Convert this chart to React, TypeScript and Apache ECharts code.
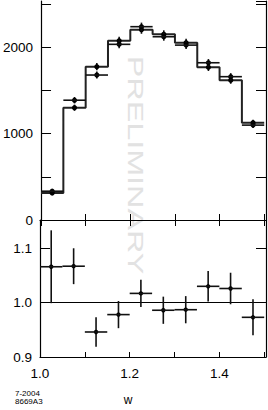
import React, { useEffect, useRef } from "react";
import * as echarts from "echarts";

const binLow = [1.0, 1.05, 1.1, 1.15, 1.2, 1.25, 1.3, 1.35, 1.4, 1.45];
const binHalf = 0.025;
const xMin = 1.0;
const xMax = 1.504;
const dataCounts = [333, 1385, 1676, 2031, 2235, 2119, 2022, 1818, 1657, 1097];
const dataErr = [20, 37, 40, 45, 47, 46, 45, 43, 41, 33];
const mcCounts = [312, 1298, 1773, 2073, 2200, 2147, 2050, 1765, 1615, 1125];
const mcErr = [18, 36, 42, 45, 47, 46, 45, 42, 40, 34];
const ratio = [1.066, 1.067, 0.946, 0.978, 1.017, 0.986, 0.987, 1.03, 1.026, 0.973];
const ratioErr = [0.067, 0.033, 0.027, 0.025, 0.025, 0.025, 0.025, 0.028, 0.029, 0.033];
const topYMax = 2532;
const ratioMin = 0.9;
const ratioMax = 1.152;
const xLabel = "w";
const stampLines = ["7-2004", "8669A3"];
const watermark = "PRELIMINARY";

const FONT = "'Liberation Sans', Arial, Helvetica, sans-serif";

function errRenderer(withHoriz: boolean, r: number) {
  return (params: any, api: any) => {
    const x = api.value(0);
    const y = api.value(1);
    const e = api.value(2);
    const hw = api.value(3);
    const c = api.coord([x, y]);
    const top = api.coord([x, y + e]);
    const bot = api.coord([x, y - e]);
    const l = api.coord([x - hw, y]);
    const rr = api.coord([x + hw, y]);
    const style = { stroke: "#111", lineWidth: 1.6 };
    const children: any[] = [
      { type: "line", shape: { x1: c[0], y1: top[1], x2: c[0], y2: bot[1] }, style },
      { type: "circle", shape: { cx: c[0], cy: c[1], r }, style: { fill: "#000" } },
    ];
    if (withHoriz) {
      children.push({ type: "line", shape: { x1: l[0], y1: c[1], x2: rr[0], y2: c[1] }, style });
    }
    return { type: "group", children };
  };
}

export default function App() {
  const ref = useRef<HTMLDivElement>(null);
  useEffect(() => {
    if (!ref.current) return;
    const chart = echarts.init(ref.current, undefined, { renderer: "svg" });
    const axisLine = { show: true, lineStyle: { color: "#000", width: 1.2 } };
    const tickStyle = { color: "#000", width: 1 };
    const labelStyle = { color: "#000", fontSize: 13.5, fontFamily: FONT };
    const isMultiple = (v: number, step: number) => Math.abs(v / step - Math.round(v / step)) < 1e-6;

    const stepData = binLow.map((x, i) => [x, mcCounts[i]]);
    stepData.push([binLow[binLow.length - 1] + 2 * binHalf, mcCounts[mcCounts.length - 1]]);

    const option: any = {
      animation: false,
      grid: [
        { left: 40, top: 1, width: 226, height: 219 },
        { left: 40, top: 220, width: 226, height: 137 },
      ],
      xAxis: [
        {
          gridIndex: 0, type: "value", min: xMin, max: xMax, interval: 0.1, position: "bottom",
          axisLine, axisTick: { show: true, inside: true, length: 6, lineStyle: tickStyle },
          axisLabel: { show: false }, splitLine: { show: false },
        },
        {
          gridIndex: 0, type: "value", min: xMin, max: xMax, interval: 0.1, position: "top",
          axisLine, axisTick: { show: true, inside: true, length: 6, lineStyle: tickStyle },
          axisLabel: { show: false }, splitLine: { show: false },
        },
        {
          gridIndex: 1, type: "value", min: xMin, max: xMax, interval: 0.1, position: "bottom",
          axisLine, axisTick: { show: true, inside: true, length: 5, lineStyle: tickStyle },
          axisLabel: {
            ...labelStyle, margin: 9, showMaxLabel: false,
            formatter: (v: number) => {
              if (!isMultiple(v, 0.1)) return "";
              const k = Math.round(v * 10);
              return k % 2 === 0 ? (k / 10).toFixed(1) : "";
            },
          },
          splitLine: { show: false },
        },
        {
          gridIndex: 1, type: "value", min: xMin, max: xMax, interval: 0.1, position: "top",
          axisLine, axisTick: { show: false }, axisLabel: { show: false }, splitLine: { show: false },
        },
      ],
      yAxis: [
        {
          gridIndex: 0, type: "value", min: 0, max: topYMax, interval: 500, position: "left",
          axisLine, axisTick: { show: true, inside: true, length: 10, lineStyle: tickStyle },
          axisLabel: {
            ...labelStyle, margin: 8, showMaxLabel: false,
            formatter: (v: number) => (isMultiple(v, 1000) ? String(Math.round(v)) : ""),
          },
          splitLine: { show: false },
        },
        {
          gridIndex: 0, type: "value", min: 0, max: topYMax, interval: 500, position: "right",
          axisLine, axisTick: { show: true, inside: true, length: 10, lineStyle: tickStyle },
          axisLabel: { show: false }, splitLine: { show: false },
        },
        {
          gridIndex: 1, type: "value", min: ratioMin, max: ratioMax, interval: 0.1, position: "left",
          axisLine, axisTick: { show: true, inside: true, length: 10, lineStyle: tickStyle },
          axisLabel: {
            ...labelStyle, margin: 8, showMaxLabel: false,
            formatter: (v: number) => (isMultiple(v, 0.1) ? v.toFixed(1) : ""),
          },
          splitLine: { show: false },
        },
        {
          gridIndex: 1, type: "value", min: ratioMin, max: ratioMax, interval: 0.1, position: "right",
          axisLine, axisTick: { show: true, inside: true, length: 10, lineStyle: tickStyle },
          axisLabel: { show: false }, splitLine: { show: false },
        },
      ],
      graphic: [
        {
          type: "text", x: 136, y: 165, rotation: -Math.PI / 2, scaleX: 1.47, z: -10,
          style: {
            text: watermark, fill: "#e2e2e2", font: `22px ${FONT}`,
            textAlign: "center", textVerticalAlign: "middle",
          },
        },
        {
          type: "text", x: 128, y: 400, z: 10,
          style: { text: xLabel, fill: "#000", font: `12px ${FONT}`, textAlign: "center", textVerticalAlign: "middle" },
        },
        {
          type: "text", x: 15, y: 393, z: 10,
          style: { text: stampLines[0], fill: "#000", font: `8px ${FONT}`, textAlign: "left", textVerticalAlign: "middle" },
        },
        {
          type: "text", x: 15, y: 401, z: 10,
          style: { text: stampLines[1], fill: "#000", font: `8px ${FONT}`, textAlign: "left", textVerticalAlign: "middle" },
        },
      ],
      series: [
        {
          type: "line", xAxisIndex: 0, yAxisIndex: 0, step: "end", symbol: "none",
          data: stepData, lineStyle: { color: "#222", width: 2 }, z: 3,
        },
        {
          type: "custom", xAxisIndex: 0, yAxisIndex: 0,
          renderItem: errRenderer(false, 2.6),
          data: binLow.map((x, i) => [x + binHalf, mcCounts[i], mcErr[i], binHalf]),
          encode: { x: 0, y: 1 }, z: 4,
        },
        {
          type: "custom", xAxisIndex: 0, yAxisIndex: 0,
          renderItem: errRenderer(true, 2.6),
          data: binLow.map((x, i) => [x + binHalf, dataCounts[i], dataErr[i], binHalf]),
          encode: { x: 0, y: 1 }, z: 5,
        },
        {
          type: "custom", xAxisIndex: 2, yAxisIndex: 2,
          renderItem: errRenderer(true, 2.2),
          data: binLow.map((x, i) => [x + binHalf, ratio[i], ratioErr[i], binHalf]),
          encode: { x: 0, y: 1 }, z: 5, clip: true,
          markLine: {
            silent: true, symbol: "none", label: { show: false },
            lineStyle: { color: "#000", width: 1.2, type: "solid" },
            data: [{ yAxis: 1.0 }],
          },
        },
      ],
    };
    chart.setOption(option);
    return () => chart.dispose();
  }, []);
  return (
    <div
      ref={ref}
      style={{ position: "fixed", left: 0, top: 0, width: 268, height: 410, background: "#fff" }}
    />
  );
}
